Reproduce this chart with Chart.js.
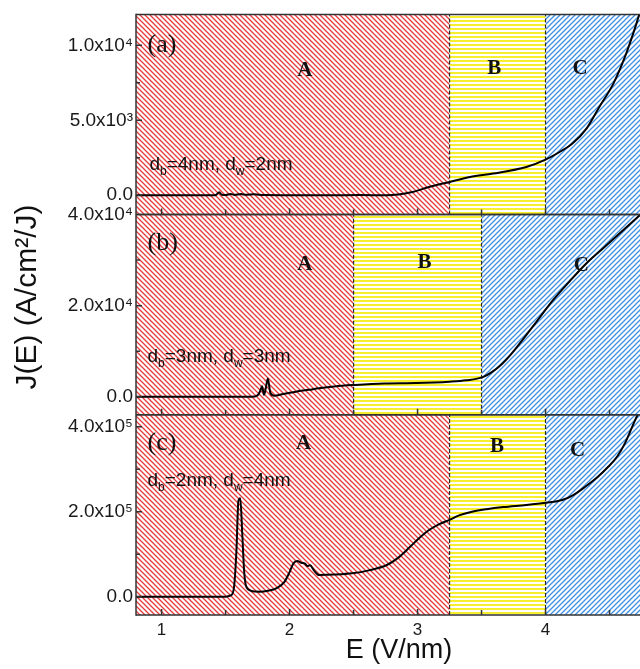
<!DOCTYPE html>
<html>
<head>
<meta charset="utf-8">
<script src="https://cdn.jsdelivr.net/npm/chart.js@4.4.1/dist/chart.umd.min.js"></script>
<style>
  html, body { margin: 0; padding: 0; background: #fff; overflow: hidden; }
  #wrap { width: 662px; height: 669px; }
</style>
</head>
<body>
<div id="wrap"><canvas id="jeChart" width="662" height="669"></canvas></div>
<script>
// Field E (V/nm) and current density J(E)
const eA = [0.8, 1.40, 1.43, 1.45, 1.47, 1.50, 1.54, 1.57, 1.62, 1.66, 1.72, 1.80, 2.00, 2.30, 2.55, 2.76, 2.96, 3.09, 3.25, 3.41, 3.59, 3.85, 4.00, 4.11, 4.21, 4.32, 4.42, 4.53, 4.63, 4.71, 4.80];
const jA = [0, 0, 50, 200, 40, 20, 90, 20, 80, 30, 60, 10, 0, 0, 10, 0, 220, 553, 887, 1220, 1447, 1887, 2380, 2887, 3447, 4447, 5887, 7447, 9447, 11447, 14000];

const eB = [0.8, 1.70, 1.75, 1.77, 1.785, 1.80, 1.815, 1.83, 1.85, 1.88, 1.95, 2.05, 2.15, 2.23, 2.35, 2.51, 2.74, 2.99, 3.25, 3.38, 3.51, 3.58, 3.66, 3.73, 3.80, 3.93, 4.06, 4.19, 4.32, 4.45, 4.58, 4.71, 4.85];
const jB = [0, 0, 300, 1200, 2300, 400, 2000, 4000, 800, 200, 600, 1100, 1500, 1850, 2250, 2570, 2900, 3000, 3300, 3600, 4300, 5400, 7200, 9300, 11740, 16500, 21250, 25400, 29320, 32600, 35900, 39200, 42800];

const eC = [0.8, 1.50, 1.54, 1.565, 1.585, 1.60, 1.615, 1.63, 1.645, 1.66, 1.69, 1.73, 1.77, 1.83, 1.90, 1.96, 2.00, 2.03, 2.06, 2.09, 2.12, 2.14, 2.16, 2.19, 2.23, 2.35, 2.49, 2.62, 2.76, 2.85, 2.94, 3.02, 3.09, 3.17, 3.25, 3.33, 3.41, 3.54, 3.67, 3.85, 4.00, 4.13, 4.22, 4.31, 4.40, 4.49, 4.56, 4.62, 4.70, 4.80];
const jC = [0, 0, 3000, 20000, 110000, 225000, 232000, 150000, 60000, 25000, 15000, 12000, 11800, 14000, 20400, 35000, 58000, 78400, 84000, 80000, 78000, 72000, 74000, 62000, 51000, 52000, 55000, 62000, 74600, 92000, 117000, 140000, 157000, 171000, 181000, 192000, 199000, 206000, 211000, 216000, 221200, 227500, 240000, 258800, 280000, 305900, 330000, 361000, 415800, 480000];

// region borders (A | B | C) for each panel
const edgesA = [3.25, 4.0];
const edgesB = [2.5, 3.5];
const edgesC = [3.25, 4.0];

// axis ranges
const eMin = 0.8, eMax = 4.91;
const rangeA = [-1290, 12066];
const rangeB = [-3980, 40000];
const rangeC = [-43100, 428300];

// ticks (empty label = minor tick)
const xTicks = [1, 1.5, 2, 2.5, 3, 3.5, 4, 4.5];
const xTickLabels = ['1', '', '2', '', '3', '', '4', ''];
const yTicksA = [0, 2500, 5000, 7500, 10000];
const yTickLabelsA = ['0.0', '', '5.0x10\u00B3', '', '1.0x10\u2074'];
const yTicksB = [0, 10000, 20000, 30000, 40000];
const yTickLabelsB = ['0.0', '', '2.0x10\u2074', '', '4.0x10\u2074'];
const yTicksC = [0, 100000, 200000, 300000, 400000];
const yTickLabelsC = ['0.0', '', '2.0x10\u2075', '', '4.0x10\u2075'];

// texts
const panelTags = ['(a)', '(b)', '(c)'];
const regionNames = ['A', 'B', 'C'];
const barrierWidths = ['4nm', '3nm', '2nm'];
const wellWidths = ['2nm', '3nm', '4nm'];

function makeHatch(kind, color) {
  const c = document.createElement('canvas');
  const g = c.getContext('2d');
  if (kind === 'h') {
    c.width = 4; c.height = 4;
    g.fillStyle = '#fff'; g.fillRect(0, 0, 4, 4);
    g.fillStyle = color; g.fillRect(0, 0, 4, 2);
  } else {
    const p = 5;
    c.width = p; c.height = p;
    g.fillStyle = '#fff'; g.fillRect(0, 0, p, p);
    g.strokeStyle = color; g.lineWidth = 1.3;
    g.beginPath();
    [-p, 0, p].forEach(o => {
      if (kind === 'back') { g.moveTo(o - 1, -1); g.lineTo(o + p + 1, p + 1); }
      else { g.moveTo(o + p + 1, -1); g.lineTo(o - 1, p + 1); }
    });
    g.stroke();
  }
  return g.createPattern(c, 'repeat');
}

const hatchRed = makeHatch('back', '#e63a3c');
const hatchYellow = makeHatch('h', '#f6ee2e');
const hatchBlue = makeHatch('fwd', '#3f8fe2');

function curve(es, js, axis) {
  return {
    data: es.map((e, i) => ({ x: e, y: js[i] })),
    yAxisID: axis, borderColor: '#000', borderWidth: 2, pointRadius: 0,
    cubicInterpolationMode: 'monotone', fill: false, order: 0
  };
}

function regions(edges, range, axis) {
  const cuts = [eMin, edges[0], edges[1], eMax];
  const pats = [hatchRed, hatchYellow, hatchBlue];
  const sets = [];
  for (let i = 0; i < 3; i++) {
    sets.push({
      data: [{ x: cuts[i], y: range[1] }, { x: cuts[i + 1], y: range[1] }],
      yAxisID: axis, borderWidth: 0, pointRadius: 0,
      fill: 'start', backgroundColor: pats[i], order: 2
    });
  }
  edges.forEach(e => sets.push({
    data: [{ x: e, y: range[0] }, { x: e, y: range[1] }],
    yAxisID: axis, borderColor: '#2a2a2a', borderWidth: 1.2, borderDash: [4, 2],
    pointRadius: 0, fill: false, order: 1
  }));
  return sets;
}

function yAxis(range, vals, labels) {
  return {
    type: 'linear', position: 'left', stack: 'panels', stackWeight: 1,
    min: range[0], max: range[1],
    grid: { display: false, drawTicks: false }, border: { display: false },
    afterBuildTicks: s => { s.ticks = vals.map(v => ({ value: v })); },
    ticks: {
      autoSkip: false, padding: 3,
      color: '#1a1a1a', font: { size: 19 },
      callback: (v, i) => labels[i]
    },
    afterFit: s => { s.width = 136; }
  };
}

// label spots in data units: [tag, A, B, C, thickness text]
const spots = {
  ya: [[0.89, 10000], [2.12, 8333], [3.60, 8467], [4.27, 8467], [0.905, 1667]],
  yb: [[0.89, 33780], [2.12, 28940], [3.055, 29380], [4.28, 28730], [0.89, 7690]],
  yc: [[0.89, 361600], [2.11, 361600], [3.62, 353000], [4.25, 345000], [0.89, 260500]]
};

const framePlugin = {
  id: 'frame',
  afterDatasetsDraw(chart) {
    const ctx = chart.ctx, xs = chart.scales.x, a = chart.chartArea;
    ctx.save();
    ctx.strokeStyle = '#333';
    ctx.lineWidth = 1.5;
    ['ya', 'yb', 'yc'].forEach(id => {
      const ys = chart.scales[id];
      ctx.beginPath();
      ctx.moveTo(a.left, ys.top); ctx.lineTo(a.right, ys.top);
      ctx.moveTo(a.left, ys.bottom); ctx.lineTo(a.right, ys.bottom);
      ys.ticks.forEach(t => {
        const py = ys.getPixelForValue(t.value);
        ctx.moveTo(a.left, py); ctx.lineTo(a.left + (t.label ? 6 : 4), py);
      });
      xs.ticks.forEach(t => {
        const px = xs.getPixelForValue(t.value);
        ctx.moveTo(px, ys.bottom); ctx.lineTo(px, ys.bottom - (t.label ? 6 : 5));
      });
      ctx.stroke();
    });
    ctx.beginPath();
    ctx.moveTo(a.left, a.top - 0.75); ctx.lineTo(a.left, a.bottom + 0.75);
    ctx.stroke();
    ctx.restore();
  },
  afterDraw(chart) {
    const ctx = chart.ctx, xs = chart.scales.x;
    ctx.save();
    ctx.fillStyle = '#111';
    ['ya', 'yb', 'yc'].forEach((id, k) => {
      const ys = chart.scales[id];
      const pt = s => [xs.getPixelForValue(s[0]), ys.getPixelForValue(s[1])];
      const sp = spots[id];
      let [x, y] = pt(sp[0]);
      ctx.font = '26px "Liberation Serif", serif';
      ctx.textAlign = 'left'; ctx.textBaseline = 'middle';
      ctx.fillText(panelTags[k], x, y);
      ctx.font = 'bold 21px "Liberation Serif", serif';
      ctx.textAlign = 'center';
      for (let r = 0; r < 3; r++) {
        [x, y] = pt(sp[r + 1]);
        ctx.fillText(regionNames[r], x, y);
      }
      // d_b=.., d_w=..
      [x, y] = pt(sp[4]);
      ctx.textAlign = 'left'; ctx.textBaseline = 'alphabetic';
      const big = '19px "Liberation Sans", Arial, sans-serif';
      const small = '12px "Liberation Sans", Arial, sans-serif';
      const parts = [['d', big, 0], ['b', small, 5], ['=' + barrierWidths[k] + ', d', big, 0], ['w', small, 5], ['=' + wellWidths[k], big, 0]];
      parts.forEach(([s, f, dy]) => {
        ctx.font = f;
        ctx.fillText(s, x, y + dy);
        x += ctx.measureText(s).width;
      });
    });
    // y axis title
    ctx.font = '30px "Liberation Sans", Arial, sans-serif';
    ctx.textAlign = 'center'; ctx.textBaseline = 'middle';
    ctx.translate(28, 297);
    ctx.rotate(-Math.PI / 2);
    ctx.fillText('J(E) (A/cm\u00B2/J)', 0, 0);
    ctx.restore();
  }
};

Chart.defaults.font.family = '"Liberation Sans", Arial, sans-serif';

new Chart(document.getElementById('jeChart'), {
  type: 'line',
  data: {
    datasets: [
      curve(eA, jA, 'ya'), curve(eB, jB, 'yb'), curve(eC, jC, 'yc'),
      ...regions(edgesA, rangeA, 'ya'),
      ...regions(edgesB, rangeB, 'yb'),
      ...regions(edgesC, rangeC, 'yc')
    ]
  },
  options: {
    responsive: false,
    animation: false,
    layout: { padding: { top: 14, left: 0, right: 0, bottom: 0 } },
    plugins: { legend: { display: false }, tooltip: { enabled: false } },
    scales: {
      x: {
        type: 'linear', min: eMin, max: eMax,
        grid: { display: false, drawTicks: false }, border: { display: false },
        afterBuildTicks: s => { s.ticks = xTicks.map(v => ({ value: v })); },
        ticks: {
          autoSkip: false, maxRotation: 0, padding: 5,
          color: '#1a1a1a', font: { size: 17 },
          callback: (v, i) => xTickLabels[i]
        },
        title: { display: true, text: 'E (V/nm)', color: '#111', font: { size: 27 }, padding: { top: 0, bottom: 2 } },
        afterFit: s => { s.height = 54; }
      },
      yc: yAxis(rangeC, yTicksC, yTickLabelsC),
      yb: yAxis(rangeB, yTicksB, yTickLabelsB),
      ya: yAxis(rangeA, yTicksA, yTickLabelsA)
    }
  },
  plugins: [framePlugin]
});
</script>
</body>
</html>
